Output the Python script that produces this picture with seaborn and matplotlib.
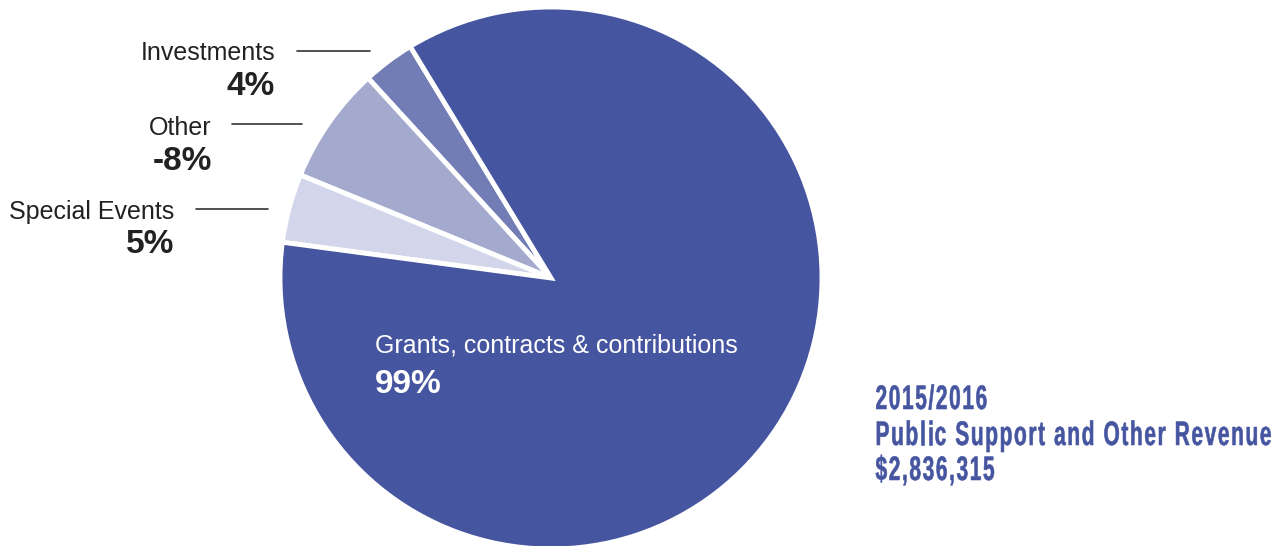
import matplotlib
matplotlib.use("Agg")
import matplotlib.pyplot as plt
import seaborn as sns
from matplotlib.textpath import TextPath, text_to_path
from matplotlib.patches import PathPatch
from matplotlib.font_manager import FontProperties
from matplotlib.transforms import Affine2D

# slice data (wedge sizes, labels as printed)
slices = ["Investments", "Other", "Special Events", "Grants, contracts & contributions"]
shares = [3.1, 7.0, 4.1, 85.8]
printed = ["4%", "-8%", "5%", "99%"]
colors = ["#737DB5", "#A3AACE", "#D3D6EA", "#4655A0"]

title_lines = ["2015/2016", "Public Support and Other Revenue", "$2,836,315"]

sns.set_theme(style="white")
plt.rcParams["font.family"] = ["Liberation Sans", "DejaVu Sans"]

W, H = 1286, 546
fig = plt.figure(figsize=(W / 100, H / 100), dpi=100)


def px(x, y):
    # pixel position -> figure fraction
    return x / W, 1 - y / H


# pie: centre (550, 278), radius 270 px
ax = fig.add_axes([280 / W, (H - 278 - 271) / H, 542 / W, 542 / H])
ax.pie(shares, colors=colors, startangle=121.3, counterclock=True,
       wedgeprops=dict(edgecolor="white", linewidth=3.5))
ax.set_xlim(-1, 1)
ax.set_ylim(-1, 1)
ax.axis("off")

# outside labels
dark = "#222222"
outside = [
    # slice index, right x, name baseline, pct baseline, line y, line x0, x1
    (0, 275, 60, 95, 51, 297, 370),
    (1, 212, 135, 170, 124, 232, 302),
    (2, 174, 219, 253, 209, 196, 268),
]
for i, xr, yb1, yb2, ly, lx0, lx1 in outside:
    fig.text(*px(xr, yb1), slices[i], ha="right", va="baseline",
             fontsize=18, color=dark)
    fig.text(*px(xr, yb2), printed[i], ha="right", va="baseline",
             fontsize=24, fontweight="bold", color=dark)
    x0, y0 = px(lx0, ly)
    x1, _ = px(lx1, ly)
    fig.add_artist(plt.Line2D([x0, x1], [y0, y0], color="#333333", lw=1.2))

# label inside the big slice
fig.text(*px(375, 353), slices[3], ha="left", va="baseline",
         fontsize=18, color="white")
fig.text(*px(375, 393), printed[3], ha="left", va="baseline",
         fontsize=24, fontweight="bold", color="white")

# title block at right: condensed bold look, squeezed glyphs with tracking
bold = FontProperties(family="Liberation Sans", weight="bold", size=34)


def advance(s):
    return text_to_path.get_text_width_height_descent(s, bold, ismath=False)[0]


track = 1.6
longest = title_lines[1]
squeeze = (396 - track * (len(longest) - 1)) / advance(longest)
for line, yb in zip(title_lines, [409, 445, 480]):
    for k, ch in enumerate(line):
        if ch == " ":
            continue
        x = 875.5 + squeeze * advance(line[:k]) + track * k
        glyph = TextPath((0, 0), ch, prop=bold)
        tr = Affine2D().scale(squeeze, 1.0).translate(x, H - yb)
        fig.add_artist(PathPatch(glyph, transform=tr, facecolor="#4655A0",
                                 edgecolor="#4655A0", linewidth=0.4))

fig.savefig("out.png", dpi=100)
